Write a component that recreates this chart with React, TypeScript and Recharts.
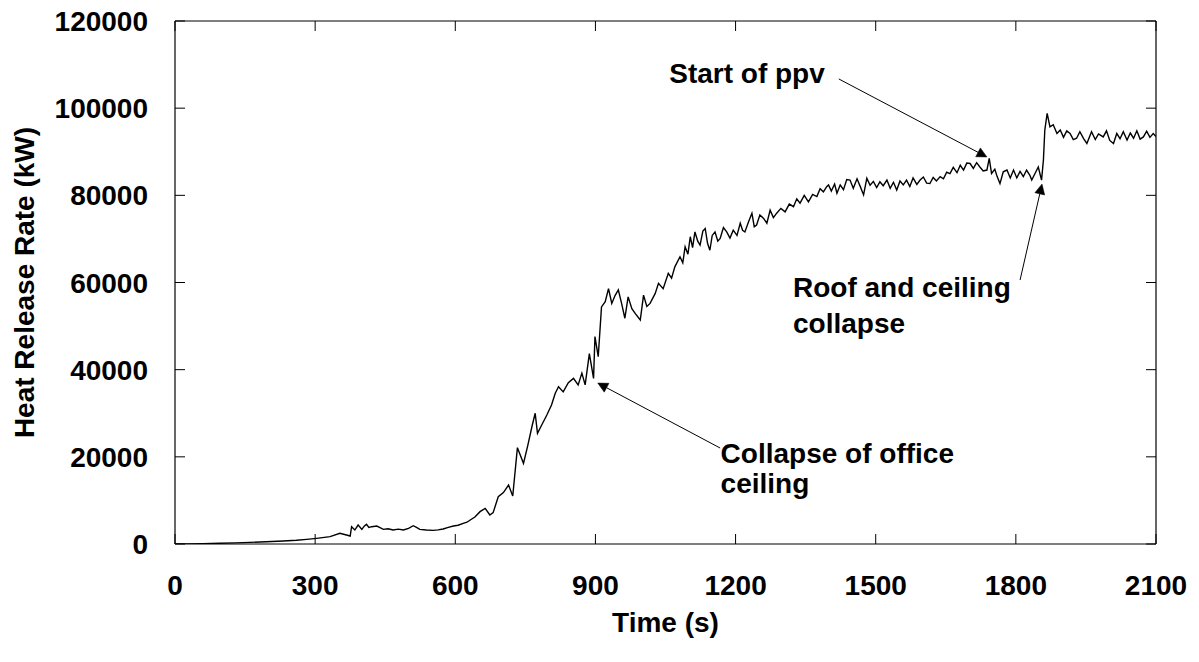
import React from 'react';
import { LineChart, Line, XAxis, YAxis, ReferenceLine, ReferenceDot } from 'recharts';

// Time (s)
const timeS = [
  0, 27, 60, 96, 130, 160, 195, 232, 260, 282,
  303, 332, 353, 367, 375, 378, 385, 392, 400, 405,
  410, 415, 421, 432, 440, 446, 456, 467, 478, 489,
  500, 510, 517, 524, 538, 553, 563, 574, 585, 596,
  606, 617, 625, 632, 642, 653, 664, 674, 681, 692,
  703, 714, 723, 733, 746, 755, 764, 771, 776, 785,
  796, 806, 814, 821, 831, 842, 853, 863, 871, 878,
  887, 896, 899, 906, 913, 921, 928, 935, 942, 949,
  956, 963, 970, 978, 985, 996, 1003, 1010, 1017, 1028,
  1035, 1045, 1056, 1063, 1070, 1081, 1087, 1092, 1098, 1103,
  1108, 1113, 1119, 1124, 1130, 1135, 1140, 1145, 1150, 1156,
  1162, 1167, 1174, 1181, 1188, 1195, 1203, 1210, 1215, 1220,
  1228, 1235, 1240, 1245, 1252, 1260, 1267, 1274, 1281, 1288,
  1297, 1306, 1315, 1324, 1331, 1338, 1347, 1356, 1365, 1374,
  1381, 1388, 1395, 1399, 1405, 1412, 1417, 1424, 1431, 1438,
  1445, 1452, 1460, 1467, 1474, 1481, 1488, 1495, 1502, 1509,
  1516, 1524, 1531, 1538, 1545, 1552, 1559, 1566, 1573, 1580,
  1588, 1595, 1602, 1609, 1616, 1623, 1630, 1638, 1645, 1652,
  1659, 1666, 1674, 1681, 1688, 1695, 1702, 1709, 1716, 1723,
  1730, 1738, 1743, 1748, 1755, 1760, 1766, 1773, 1781, 1788,
  1795, 1802, 1809, 1816, 1823, 1830, 1834, 1841, 1848, 1855,
  1859, 1862, 1867, 1873, 1880, 1888, 1895, 1902, 1909, 1916,
  1923, 1930, 1937, 1945, 1952, 1962, 1970, 1977, 1987, 1994,
  2001, 2009, 2016, 2023, 2030, 2038, 2045, 2052, 2059, 2066,
  2073, 2080, 2087, 2094, 2100,
];

// Heat Release Rate (kW)
const hrrKW = [
  0, 0, 80, 160, 260, 380, 520, 690, 850, 1070,
  1300, 1680, 2450, 2060, 1830, 3970, 3210, 4360, 3360, 4100,
  4510, 3800, 3970, 4130, 3700, 3360, 3500, 3210, 3400, 3210,
  3600, 4200, 3800, 3360, 3200, 3130, 3250, 3440, 3800, 4130,
  4300, 4740, 5000, 5500, 6200, 7420, 8180, 6650, 7190, 10850,
  11800, 13530, 11010, 22100, 18510, 22500, 26900, 30000, 25400, 27300,
  29600, 31900, 34600, 36100, 34900, 37000, 38000, 36500, 39200, 36500,
  43700, 38000, 47600, 43000, 54400, 55600, 58600, 55200, 57000, 58300,
  55200, 51800, 56700, 54000, 52900, 51400, 57100, 54500, 55200, 57500,
  59800, 58600, 62100, 61000, 63600, 65900, 64500, 68200, 66500, 70500,
  68000, 71600, 69500, 68600, 71800, 72400, 69000, 67400, 70800, 71600,
  69500, 70100, 72600, 71600, 70200, 72000, 70800, 73600, 72000, 71600,
  74000, 75900, 72800, 73200, 75500, 74700, 73600, 76600, 74900, 75900,
  77000, 76200, 78000, 77400, 79200, 78200, 80000, 78500, 80200, 79700,
  81500, 80800, 82000, 82400, 81000, 82600, 80500, 82400, 81300, 83600,
  83500, 81600, 83800, 82000, 80100, 83900, 82300, 83200, 81800, 83100,
  82200, 83500, 81600, 83000, 81200, 83300, 82400, 83500, 82000, 84000,
  82500, 83500, 84200, 82800, 82700, 84100, 83300, 84300, 83800, 85300,
  85000, 86400, 85200, 86900, 85800, 87400, 87300, 86200, 87500, 86500,
  85600, 85800, 88500, 85000, 86000, 84300, 82700, 85400, 85800, 84000,
  85800, 84000, 85500, 84300, 85800, 84600, 83500, 85000, 86500, 83500,
  88100, 95000, 98800, 95700, 96200, 94200, 95000, 93300, 94800, 94200,
  92800, 93100, 94600, 93000, 91900, 94600, 92800, 94100, 93400, 94800,
  92600, 91900, 94200, 93000, 94600, 92700, 94300, 93100, 94800, 92900,
  93400, 94700, 93300, 94200, 93500,
];

const xTicks = [0, 300, 600, 900, 1200, 1500, 1800, 2100];
const yTicks = [0, 20000, 40000, 60000, 80000, 100000, 120000];

// Annotation arrows: from (t,v) near the text to (t,v) tip on the curve
const arrowFrom = [
  { t: 1421, v: 106700 },
  { t: 1809, v: 60560 },
  { t: 1167, v: 22020 },
];
const arrowTo = [
  { t: 1738, v: 88800 },
  { t: 1856, v: 82580 },
  { t: 905, v: 36930 },
];
// Annotation texts
const noteLines = [
  ['Start of ppv'],
  ['Roof and ceiling', 'collapse'],
  ['Collapse of office', 'ceiling'],
];
const noteAnchor = [
  { t: 1391, v: 105700 },
  { t: 1323, v: 56670 },
  { t: 1168, v: 18520 },
];

const data = timeS.map((t, i) => ({ t, hrr: hrrKW[i] }));

const FONT = 'Arial, "Liberation Sans", Helvetica, sans-serif';
const FS = 28;

const BottomTick = (props: any) => {
  const { x, y, payload } = props;
  return (
    <g>
      <line x1={x} y1={y} x2={x} y2={y - 10} stroke="#000" strokeWidth={1} />
      <text x={x} y={y + 51} textAnchor="middle" fontFamily={FONT} fontSize={FS} fontWeight="bold" fill="#000">
        {payload.value}
      </text>
    </g>
  );
};

const TopTick = (props: any) => {
  const { x, y } = props;
  return <line x1={x} y1={y} x2={x} y2={y + 10} stroke="#000" strokeWidth={1} />;
};

const LeftTick = (props: any) => {
  const { x, y, payload } = props;
  return (
    <g>
      <line x1={x} y1={y} x2={x + 10} y2={y} stroke="#000" strokeWidth={1} />
      <text x={x - 27} y={y + 10} textAnchor="end" fontFamily={FONT} fontSize={FS} fontWeight="bold" fill="#000">
        {payload.value}
      </text>
    </g>
  );
};

const RightTick = (props: any) => {
  const { x, y } = props;
  return <line x1={x} y1={y} x2={x - 10} y2={y} stroke="#000" strokeWidth={1} />;
};

const ArrowShape = (props: any) => {
  const { x1, y1, x2, y2 } = props;
  const dx = x2 - x1;
  const dy = y2 - y1;
  const len = Math.sqrt(dx * dx + dy * dy) || 1;
  const ux = dx / len;
  const uy = dy / len;
  const L = 10;
  const W = 5;
  const bx = x2 - ux * L;
  const by = y2 - uy * L;
  const nx = -uy;
  const ny = ux;
  const pts = `${x2},${y2} ${bx + nx * W},${by + ny * W} ${bx - nx * W},${by - ny * W}`;
  return (
    <g>
      <line x1={x1} y1={y1} x2={bx} y2={by} stroke="#000" strokeWidth={1} />
      <polygon points={pts} fill="#000" stroke="#000" strokeWidth={0.5} />
    </g>
  );
};

const makeNote = (lines: string[], anchor: 'start' | 'end', lineGap: number) => (props: any) => {
  const { cx, cy } = props;
  return (
    <text x={cx} y={cy} textAnchor={anchor} fontFamily={FONT} fontSize={FS} fontWeight="bold" fill="#000">
      {lines.map((s, i) => (
        <tspan key={i} x={cx} dy={i === 0 ? 0 : lineGap}>
          {s}
        </tspan>
      ))}
    </text>
  );
};

const noteAnchors: Array<'start' | 'end'> = ['end', 'start', 'start'];
const noteGaps = [36, 36, 29.5];

const YTitle = (props: any) => {
  const vb = props.viewBox || { x: 75, y: 21, width: 100, height: 523 };
  const cx = vb.x - 51;
  const cy = vb.y + vb.height / 2;
  return (
    <text
      x={cx}
      y={cy}
      transform={`rotate(-90, ${cx}, ${cy})`}
      textAnchor="middle"
      dominantBaseline="central"
      fontFamily={FONT}
      fontSize={FS}
      fontWeight="bold"
      fill="#000"
    >
      Heat Release Rate (kW)
    </text>
  );
};

const XTitle = (props: any) => {
  const vb = props.viewBox || { x: 175, y: 544, width: 981, height: 60 };
  const cx = vb.x + vb.width / 2;
  const cy = vb.y + 88;
  return (
    <text x={cx} y={cy} textAnchor="middle" fontFamily={FONT} fontSize={FS} fontWeight="bold" fill="#000">
      Time (s)
    </text>
  );
};

export default function App() {
  return (
    <div style={{ position: 'absolute', left: 0, top: 0, width: 1199, height: 662, background: '#fff' }}>
      <LineChart
        width={1199}
        height={662}
        data={data}
        margin={{ top: 11, right: 33, bottom: 58, left: 75 }}
      >
        <XAxis
          xAxisId={0}
          dataKey="t"
          type="number"
          domain={[0, 2100]}
          ticks={xTicks}
          interval={0}
          height={60}
          tickSize={0}
          tickMargin={0}
          tickLine={false}
          axisLine={{ stroke: '#000', strokeWidth: 1.2 }}
          tick={<BottomTick />}
          label={<XTitle />}
          allowDataOverflow
        />
        <XAxis
          xAxisId="top"
          orientation="top"
          dataKey="t"
          type="number"
          domain={[0, 2100]}
          ticks={xTicks}
          interval={0}
          height={10}
          tickSize={0}
          tickMargin={0}
          tickLine={false}
          axisLine={{ stroke: '#000', strokeWidth: 1.2 }}
          tick={<TopTick />}
          allowDataOverflow
        />
        <YAxis
          yAxisId={0}
          type="number"
          domain={[0, 120000]}
          ticks={yTicks}
          interval={0}
          width={100}
          tickSize={0}
          tickMargin={0}
          tickLine={false}
          axisLine={{ stroke: '#000', strokeWidth: 1.2 }}
          tick={<LeftTick />}
          label={<YTitle />}
          allowDataOverflow
        />
        <YAxis
          yAxisId="right"
          orientation="right"
          type="number"
          domain={[0, 120000]}
          ticks={yTicks}
          interval={0}
          width={10}
          tickSize={0}
          tickMargin={0}
          tickLine={false}
          axisLine={{ stroke: '#000', strokeWidth: 1.2 }}
          tick={<RightTick />}
          allowDataOverflow
        />
        <Line
          xAxisId={0}
          yAxisId={0}
          type="linear"
          dataKey="hrr"
          stroke="#000"
          strokeWidth={1.4}
          dot={false}
          activeDot={false}
          isAnimationActive={false}
        />
        {arrowFrom.map((a, i) => (
          <ReferenceLine
            key={`arr${i}`}
            xAxisId={0}
            yAxisId={0}
            segment={[
              { x: a.t, y: a.v },
              { x: arrowTo[i].t, y: arrowTo[i].v },
            ]}
            shape={ArrowShape}
            ifOverflow="visible"
          />
        ))}
        {noteAnchor.map((n, i) => (
          <ReferenceDot
            key={`note${i}`}
            xAxisId={0}
            yAxisId={0}
            x={n.t}
            y={n.v}
            r={0}
            ifOverflow="visible"
            shape={makeNote(noteLines[i], noteAnchors[i], noteGaps[i])}
          />
        ))}
      </LineChart>
    </div>
  );
}
